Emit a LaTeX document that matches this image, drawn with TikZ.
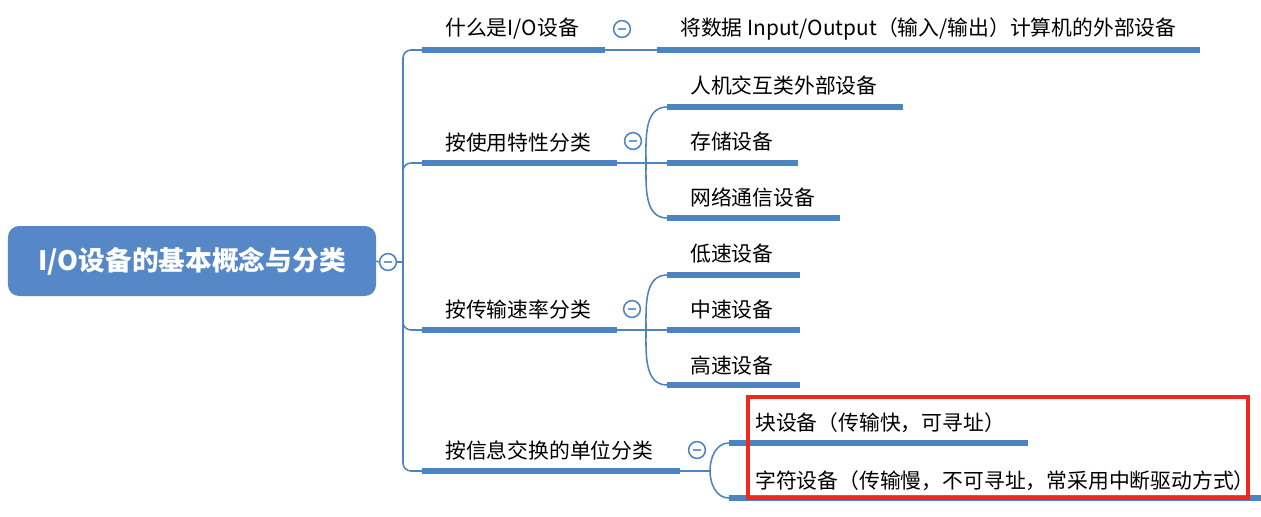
\documentclass[tikz,border=0pt]{standalone}
\usepackage{fontspec}
\setmainfont{Noto Sans CJK SC}
\usetikzlibrary{arrows.meta,positioning,calc}
\definecolor{mapblue}{HTML}{4F82C0}
\definecolor{rootblue}{HTML}{5688C7}
\definecolor{boxred}{HTML}{F0281E}

\begin{document}
\begin{tikzpicture}[x=0.025cm,y=-0.025cm,
    root/.style={fill=rootblue, rounded corners=0.28cm, text=white, minimum width=9.2cm, minimum height=1.75cm, font=\fontsize{19}{22}\selectfont\bfseries},
    lbl/.style={anchor=west, inner sep=0pt, font=\fontsize{14.8}{17}\selectfont},
    bar/.style={mapblue, line width=3.6pt},
    link/.style={mapblue, line width=1.1pt},
    fold/.style={circle, draw=mapblue, fill=white, line width=1.1pt, minimum size=0.42cm, inner sep=0pt,
      path picture={\draw[mapblue!80, line width=1pt] ([xshift=-0.9mm]path picture bounding box.center) -- ([xshift=0.9mm]path picture bounding box.center);}}]
    \useasboundingbox (0,0) rectangle (1261,516);

    % root
    \node[root] (io) at (192,261) {I/O设备的基本概念与分类};
    \node[fold] (f0) at (388,262) {};
    \coordinate (trunk) at (403,262);
    \draw[link] (io.east) -- (f0.west);
    \draw[link] (f0.east) -- (trunk);

    % what is an I/O device
    \coordinate (a1) at (422,50);
    \coordinate (b1) at (605,50);
    \coordinate (d1a) at (657,50);
    \coordinate (d1b) at (1200,50);
    \node[lbl] (what) at (445,29) {什么是I/O设备};
    \node[fold] (f1) at (622,29) {};
    \node[lbl] (what1) at (680,29) {将数据 Input/Output（输入/输出）计算机的外部设备};
    \draw[link, rounded corners=0.2cm] (trunk) |- (a1);
    \draw[bar] (a1) -- (b1);
    \draw[link] (b1) -- (d1a);
    \draw[bar] (d1a) -- (d1b);

    % by usage
    \coordinate (a2) at (422,163);
    \coordinate (b2) at (617,163);
    \coordinate (j2) at (646,163);
    \node[lbl] (use) at (445,143) {按使用特性分类};
    \node[fold] (f2) at (633,141) {};
    \draw[link, rounded corners=0.2cm] (trunk) |- (a2);
    \draw[bar] (a2) -- (b2);
    \draw[link] (b2) -- (j2);
    \coordinate (u1a) at (667,107); \coordinate (u1b) at (903,107);
    \coordinate (u2a) at (667,163); \coordinate (u2b) at (798,163);
    \coordinate (u3a) at (667,218); \coordinate (u3b) at (840,218);
    \node[lbl] (use1) at (690,86) {人机交互类外部设备};
    \node[lbl] (use2) at (690,142) {存储设备};
    \node[lbl] (use3) at (690,197) {网络通信设备};
    \draw[link] (j2) to[out=90,in=180] (u1a);
    \draw[link] (j2) -- (u2a);
    \draw[link] (j2) to[out=-90,in=180] (u3a);
    \draw[bar] (u1a) -- (u1b);
    \draw[bar] (u2a) -- (u2b);
    \draw[bar] (u3a) -- (u3b);

    % by speed
    \coordinate (a3) at (422,330);
    \coordinate (b3) at (617,330);
    \coordinate (j3) at (646,330);
    \node[lbl] (speed) at (445,310) {按传输速率分类};
    \node[fold] (f3) at (632,309) {};
    \draw[link, rounded corners=0.2cm] (trunk) |- (a3);
    \draw[bar] (a3) -- (b3);
    \draw[link] (b3) -- (j3);
    \coordinate (s1a) at (667,275); \coordinate (s1b) at (800,275);
    \coordinate (s2a) at (667,330); \coordinate (s2b) at (800,330);
    \coordinate (s3a) at (667,385); \coordinate (s3b) at (800,385);
    \node[lbl] (speed1) at (690,254) {低速设备};
    \node[lbl] (speed2) at (690,310) {中速设备};
    \node[lbl] (speed3) at (690,366) {高速设备};
    \draw[link] (j3) to[out=90,in=180] (s1a);
    \draw[link] (j3) -- (s2a);
    \draw[link] (j3) to[out=-90,in=180] (s3a);
    \draw[bar] (s1a) -- (s1b);
    \draw[bar] (s2a) -- (s2b);
    \draw[bar] (s3a) -- (s3b);

    % by unit of exchange
    \coordinate (a4) at (422,471);
    \coordinate (b4) at (680,471);
    \coordinate (j4) at (710,471);
    \node[lbl] (unit) at (445,451) {按信息交换的单位分类};
    \node[fold] (f4) at (697,450) {};
    \draw[link, rounded corners=0.2cm] (trunk) |- (a4);
    \draw[bar] (a4) -- (b4);
    \draw[link] (b4) -- (j4);
    \coordinate (e1a) at (729,443); \coordinate (e1b) at (1028,443);
    \coordinate (e2a) at (729,498); \coordinate (e2b) at (1261,498);
    \node[lbl] (unit1) at (755,423) {块设备（传输快，可寻址）};
    \node[lbl] (unit2) at (755,481) {字符设备（传输慢，不可寻址，常采用中断驱动方式）};
    \draw[link] (j4) to[out=90,in=180] (e1a);
    \draw[link] (j4) to[out=-90,in=180] (e2a);
    \draw[bar] (e1a) -- (e1b);
    \draw[bar] (e2a) -- (e2b);

    % highlight
    \draw[boxred, line width=2.2pt] (748,397) rectangle (1248,498);
  \end{tikzpicture}
\end{document}
